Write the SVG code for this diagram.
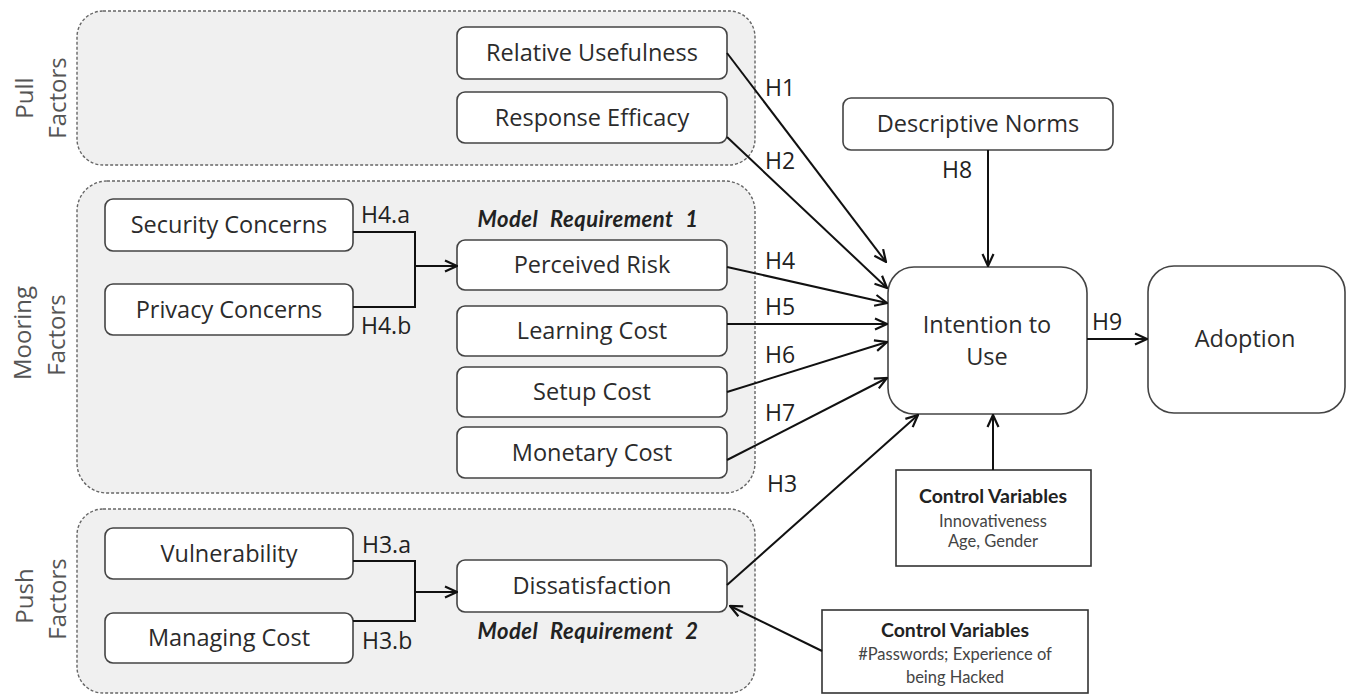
<svg xmlns="http://www.w3.org/2000/svg" width="1348" height="696" viewBox="0 0 1348 696">
<defs>
<marker id="arr" viewBox="0 0 14 14" refX="13" refY="7" markerWidth="14" markerHeight="14" markerUnits="userSpaceOnUse" orient="auto">
<path d="M1,1.5 L13,7 L1,12.5" fill="none" stroke="#111" stroke-width="2.2" stroke-linejoin="miter"/>
</marker>
<style>
.grp{fill:#f0f0f0;stroke:#666;stroke-width:1.4;stroke-dasharray:3 2}
.nd{fill:#fff;stroke:#444;stroke-width:1.6}
.cb{fill:#fff;stroke:#333;stroke-width:1.6}
.t{font-family:"Open Sans","Noto Sans",sans-serif;font-size:23.5px;fill:#2b2b2b;text-anchor:middle}
.side{font-family:"Open Sans","Noto Sans",sans-serif;font-size:24px;fill:#555;text-anchor:middle}
.h{font-family:"Open Sans","Noto Sans",sans-serif;font-size:23px;fill:#222}
.mr{font-family:"Lato","Open Sans",sans-serif;font-size:22px;font-weight:bold;font-style:italic;fill:#222;text-anchor:middle;word-spacing:0.5px;letter-spacing:0.5px;white-space:pre}
.cvb{font-family:"Lato","Open Sans",sans-serif;font-size:19.5px;font-weight:bold;fill:#222;text-anchor:middle}
.cvt{font-family:"Lato","Open Sans",sans-serif;font-size:16.5px;fill:#444;text-anchor:middle}
.c{fill:none;stroke:#111;stroke-width:2}
.ca{fill:none;stroke:#111;stroke-width:2;marker-end:url(#arr)}
</style>
</defs>
<rect width="1348" height="696" fill="#fff"/>

<g id="pull-factors">
<rect class="grp" x="77" y="11" width="678" height="154" rx="26"/>
<text class="side" transform="translate(33,98) rotate(-90)">Pull</text>
<text class="side" transform="translate(66,98) rotate(-90)">Factors</text>
</g>
<g id="mooring-factors">
<rect class="grp" x="77" y="181" width="678" height="312" rx="30"/>
<text class="side" transform="translate(31,333) rotate(-90)">Mooring</text>
<text class="side" transform="translate(65,335) rotate(-90)">Factors</text>
</g>
<g id="push-factors">
<rect class="grp" x="77" y="509" width="678" height="184" rx="26"/>
<text class="side" transform="translate(33,596) rotate(-90)">Push</text>
<text class="side" transform="translate(66,599) rotate(-90)">Factors</text>
</g>

<g id="relative-usefulness"><rect class="nd" x="457" y="27" width="270" height="52" rx="8"/><text class="t" x="592" y="61">Relative Usefulness</text></g>
<g id="response-efficacy"><rect class="nd" x="457" y="92" width="270" height="51" rx="8"/><text class="t" x="592" y="126">Response Efficacy</text></g>
<g id="security-concerns"><rect class="nd" x="105" y="199" width="248" height="52" rx="8"/><text class="t" x="229" y="233">Security Concerns</text></g>
<g id="privacy-concerns"><rect class="nd" x="105" y="284" width="248" height="51" rx="8"/><text class="t" x="229" y="318">Privacy Concerns</text></g>
<g id="model-requirement-1"><text class="mr" x="588" y="227">Model  Requirement  1</text></g>
<g id="perceived-risk"><rect class="nd" x="457" y="240" width="270" height="50" rx="8"/><text class="t" x="592" y="273">Perceived Risk</text></g>
<g id="learning-cost"><rect class="nd" x="457" y="306" width="270" height="50" rx="8"/><text class="t" x="592" y="339">Learning Cost</text></g>
<g id="setup-cost"><rect class="nd" x="457" y="367" width="270" height="50" rx="8"/><text class="t" x="592" y="400">Setup Cost</text></g>
<g id="monetary-cost"><rect class="nd" x="457" y="427" width="270" height="51" rx="8"/><text class="t" x="592" y="461">Monetary Cost</text></g>
<g id="vulnerability"><rect class="nd" x="105" y="528" width="248" height="51" rx="8"/><text class="t" x="229" y="562">Vulnerability</text></g>
<g id="managing-cost"><rect class="nd" x="105" y="613" width="248" height="50" rx="8"/><text class="t" x="229" y="646">Managing Cost</text></g>
<g id="dissatisfaction"><rect class="nd" x="457" y="560" width="270" height="52" rx="8"/><text class="t" x="592" y="594">Dissatisfaction</text></g>
<g id="model-requirement-2"><text class="mr" x="588" y="639">Model  Requirement  2</text></g>
<g id="descriptive-norms"><rect class="nd" x="843" y="98" width="270" height="52" rx="8"/><text class="t" x="978" y="132">Descriptive Norms</text></g>
<g id="intention-to-use"><rect class="nd" x="888" y="267" width="199" height="147" rx="26"/><text class="t" x="987" y="333">Intention to</text><text class="t" x="987" y="365">Use</text></g>
<g id="adoption"><rect class="nd" x="1148" y="266" width="197" height="147" rx="26"/><text class="t" x="1245" y="347">Adoption</text></g>
<g id="control-variables-1"><rect class="cb" x="896" y="470" width="195" height="96"/><text class="cvb" x="993" y="503">Control Variables</text><text class="cvt" x="993" y="527">Innovativeness</text><text class="cvt" x="993" y="547">Age, Gender</text></g>
<g id="control-variables-2"><rect class="cb" x="822" y="610" width="266" height="83"/><text class="cvb" x="955" y="637">Control Variables</text><text class="cvt" x="955" y="660">#Passwords; Experience of</text><text class="cvt" x="955" y="683">being Hacked</text></g>

<g id="connectors">
<polyline class="c" points="353,232 415,232 415,307 353,307"/>
<line class="ca" x1="415" y1="266" x2="457" y2="266"/>
<polyline class="c" points="353,561 415,561 415,621 353,621"/>
<line class="ca" x1="415" y1="592" x2="457" y2="592"/>
<line class="ca" x1="727" y1="53" x2="886" y2="262"/>
<line class="ca" x1="727" y1="137" x2="887" y2="288"/>
<line class="ca" x1="727" y1="267" x2="887" y2="303"/>
<line class="ca" x1="727" y1="324" x2="887" y2="324"/>
<line class="ca" x1="727" y1="392" x2="887" y2="342"/>
<line class="ca" x1="727" y1="460" x2="887" y2="378"/>
<line class="ca" x1="727" y1="585" x2="918" y2="415"/>
<line class="ca" x1="988" y1="150" x2="988" y2="266"/>
<line class="ca" x1="1087" y1="339" x2="1147" y2="339"/>
<line class="ca" x1="993" y1="470" x2="993" y2="415"/>
<line class="ca" x1="822" y1="651" x2="730" y2="606"/>
<text class="h" x="765" y="96">H1</text>
<text class="h" x="765" y="169">H2</text>
<text class="h" x="765" y="269">H4</text>
<text class="h" x="765" y="315">H5</text>
<text class="h" x="765" y="363">H6</text>
<text class="h" x="765" y="421">H7</text>
<text class="h" x="767" y="492">H3</text>
<text class="h" x="942" y="178">H8</text>
<text class="h" x="1092" y="330">H9</text>
<text class="h" x="361" y="223">H4.a</text>
<text class="h" x="361" y="334">H4.b</text>
<text class="h" x="362" y="553">H3.a</text>
<text class="h" x="362" y="649">H3.b</text>
</g>
</svg>
